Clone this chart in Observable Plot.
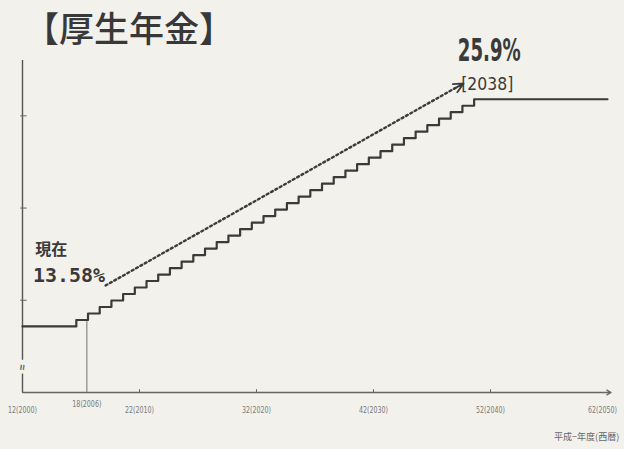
<!DOCTYPE html>
<html><head><meta charset="utf-8">
<script src="https://cdn.jsdelivr.net/npm/d3@7"></script>
<script src="https://cdn.jsdelivr.net/npm/@observablehq/plot@0.6"></script>
<style>
html,body{margin:0;padding:0;background:#f2f1ec;}
#wrap{position:relative;width:624px;height:449px;overflow:hidden;background:#f2f1ec;}
#title{position:absolute;left:24px;top:9px;font-family:"Noto Sans CJK JP";font-weight:500;font-size:35px;color:#383838;line-height:1;white-space:nowrap;}
#chart{position:absolute;left:0;top:0;}
</style></head><body>
<div id="wrap"><div id="chart"></div><div id="title">【厚生年金】</div></div>
<script>
// ---- data ----
const startYear = 2000;
const endYear = 2050;
const startRate = 13.58;
const stepYears = [2004,2005,2006,2007,2008,2009,2010,2011,2012,2013,2014,2015,2016,2017,2018,2019,2020,2021,2022,2023,2024,2025,2026,2027,2028,2029,2030,2031,2032,2033,2034,2035,2036,2037,2038];
const stepRates = [13.932,14.284,14.636,14.988,15.34,15.692,16.044,16.396,16.748,17.1,17.452,17.804,18.156,18.508,18.86,19.212,19.564,19.916,20.268,20.62,20.972,21.324,21.676,22.028,22.38,22.732,23.084,23.436,23.788,24.14,24.492,24.844,25.196,25.548,25.9];
const finalRate = 25.9;
const tickYears = [2000, 2006, 2010, 2020, 2030, 2040, 2050];
const tickLabels = ["12(2000)","18(2006)","22(2010)","32(2020)","42(2030)","52(2040)","62(2050)"];
const yTicks = [15, 20, 25];
const currentLabel = "現在";
const currentValue = "13.58%";
const targetValue = "25.9%";
const targetYear = "[2038]";
const axisTitle = "平成−年度(西暦)";
const markerYear = 2006;
const trendStart = {x: 2007.1, y: 15.8};
const trendEnd = {x: 2037.7, y: 26.76};

// ---- table ----
const stepOffset = 0.6; // change takes effect in autumn of the fiscal year
const series = [{x: startYear, y: startRate}]
  .concat(stepYears.map((yr, i) => ({x: yr + stepOffset, y: stepRates[i]})))
  .concat([{x: endYear, y: finalRate}]);
const rateAt = yr => { let r = startRate; series.forEach(d => { if (d.x <= yr) r = d.y; }); return r; };
const markerX = markerYear - 1 + 0.5; // drawn at the step that precedes FY2006
const slope = (trendEnd.y - trendStart.y) / (trendEnd.x - trendStart.x);
const headFrom = {x: trendEnd.x - 0.7, y: trendEnd.y - 0.7 * slope};

const ink = "#3a3a3a";
const sans = '"DejaVu Sans",sans-serif';
const allTicks = tickYears.map((d, i) => ({x: d, t: tickLabels[i]}));
const mainTicks = allTicks.filter(d => d.x !== markerYear && d.x !== endYear);
const lastTick = allTicks.filter(d => d.x === endYear);
const markTick = [{x: markerX, t: tickLabels[tickYears.indexOf(markerYear)]}];

const chart = Plot.plot({
  width: 624, height: 449,
  marginLeft: 22, marginRight: 17, marginTop: 60, marginBottom: 57,
  x: {domain: [startYear, endYear], axis: null},
  y: {domain: [10, 28], axis: null},
  style: {background: "transparent", overflow: "visible"},
  marks: [
    // y axis with break
    Plot.ruleX([startYear], {y1: 10, y2: 11.0, stroke: "#555", strokeWidth: 1.4}),
    Plot.ruleX([startYear], {y1: 11.75, y2: 28, stroke: "#555", strokeWidth: 1.4}),
    Plot.text([startYear], {x: d => d, y: 11.36, text: () => "≈", fontSize: 10, fill: "#555", rotate: 90, fontWeight: "bold"}),
    Plot.ruleY(yTicks, {y: d => d, x1: startYear - 0.15, x2: startYear + 0.4, stroke: "#666", strokeWidth: 1}),
    // x axis with arrow
    Plot.arrow([0], {x1: startYear, y1: 10, x2: endYear + 0.3, y2: 10, stroke: "#666", strokeWidth: 1.4, headLength: 5}),
    Plot.ruleX(tickYears.filter(d => d > markerYear && d < endYear), {x: d => d, y1: 10, y2: 10.15, stroke: "#666", strokeWidth: 1}),
    // marker line
    Plot.ruleX([markerX], {x: d => d, y1: 10, y2: rateAt(markerX), stroke: "#888", strokeWidth: 1.2}),
    // staircase
    Plot.line(series, {x: "x", y: "y", curve: "step-after", stroke: ink, strokeWidth: 2.2}),
    // dotted trend arrow: dotted shaft + solid head (head sized on the full length)
    Plot.line([trendStart, headFrom], {x: "x", y: "y", stroke: "#3c3c3c", strokeWidth: 2.4, strokeDasharray: "2,3"}),
    Plot.arrow([0], {x1: trendStart.x, y1: trendStart.y, x2: trendEnd.x, y2: trendEnd.y, insetStart: 400, stroke: "#3c3c3c", strokeWidth: 1.8, headLength: 9, headAngle: 50}),
    // annotations
    Plot.text([0], {x: 2001.1, y: 17.48, text: () => currentLabel, textAnchor: "start", lineAnchor: "bottom", fontSize: 16, fontWeight: "bold", fill: ink, fontFamily: '"Noto Sans CJK JP"'}),
    Plot.text([0], {x: 2000.9, y: 15.97, text: () => currentValue, textAnchor: "start", lineAnchor: "bottom", fontSize: 20, fontWeight: "bold", fill: ink, fontFamily: '"DejaVu Sans Mono",monospace'}),
    Plot.text([0], {x: 2037.2, y: 28.0, text: () => targetValue, textAnchor: "start", lineAnchor: "bottom", fontSize: 32, fontWeight: "bold", fill: ink, fontFamily: sans}),
    Plot.text([0], {x: 2037.5, y: 26.38, text: () => targetYear, textAnchor: "start", lineAnchor: "bottom", fontSize: 17, fill: ink, fontFamily: sans}),
    // tick labels
    Plot.text(mainTicks, {x: "x", y: 10, text: "t", dy: 18, fontSize: 8, fill: "#7a7a7a", fontFamily: sans}),
    Plot.text(lastTick, {x: "x", y: 10, text: "t", dy: 18, dx: -5, fontSize: 8, fill: "#7a7a7a", fontFamily: sans}),
    Plot.text(markTick, {x: "x", y: 10, text: "t", dy: 12, fontSize: 8, fill: "#7a7a7a", fontFamily: sans}),
    Plot.text([0], {x: endYear + 1.0, y: 7.56, text: () => axisTitle, textAnchor: "end", fontSize: 9, fill: "#666", fontFamily: '"Noto Sans CJK JP"'})
  ]
});
// condense selected labels horizontally (the original uses a narrow typeface)
const widths = {};
widths[targetValue] = 63; widths[targetYear] = 52; widths[currentValue] = 72;
tickLabels.forEach(t => widths[t] = 29);
chart.querySelectorAll("text").forEach(t => {
  const w = widths[t.textContent];
  if (w) { t.setAttribute("textLength", w); t.setAttribute("lengthAdjust", "spacingAndGlyphs"); }
});
document.getElementById("chart").appendChild(chart);
</script>
</body></html>
